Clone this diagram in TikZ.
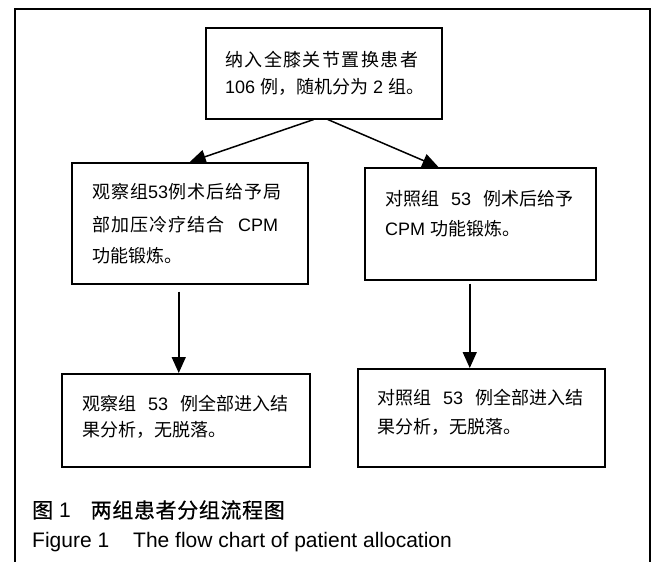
\documentclass[tikz,border=0pt]{standalone}
\usepackage{fontspec}
\setmainfont{Liberation Sans}
\newfontfamily\cjk{Noto Sans CJK SC}
\newfontfamily\cjkw[LetterSpace=8]{Noto Sans CJK SC}
\newfontfamily\cjkm[LetterSpace=5.5]{Noto Sans CJK SC}
\newfontfamily\cjkc[LetterSpace=3,FakeBold=0.6]{Noto Sans CJK SC}
\usetikzlibrary{arrows.meta,calc}
\newcommand{\tgap}{\hspace{12pt}}
\begin{document}
\begin{tikzpicture}[x=1pt,y=-1pt,
  box/.style={draw=black,line width=1.5pt,inner sep=0pt,anchor=north west},
  txt/.style={anchor=west,inner sep=0pt,font=\fontsize{18}{22}\selectfont},
  captxt/.style={anchor=west,inner sep=0pt,font=\fontsize{21}{25}\selectfont},
  arr/.style={line width=1.5pt,-{Triangle[width=14pt,length=16pt]}}]
\useasboundingbox (0,0) rectangle (653,562);
% outer frame
\draw[line width=2pt] (15,562) -- (15,9) -- (650,9) -- (650,562);
% boxes
\node[box,minimum width=236pt,minimum height=91pt] (t) at (205,27) {};
\node[box,minimum width=236pt,minimum height=121pt] (l) at (71,162) {};
\node[box,minimum width=231pt,minimum height=112pt] (r) at (364,167) {};
\node[box,minimum width=248pt,minimum height=93pt] (bl) at (61,373) {};
\node[box,minimum width=247pt,minimum height=98pt] (br) at (357,368) {};
% texts
\node[txt] (t1) at (225,60) {{\cjkw 纳入全膝关节置换患者}};
\node[txt] (t2) at (225,87) {106 {\cjk 例，随机分为} 2 {\cjk 组。}};
\node[txt] (l1) at (92,192) {{\cjkm 观察组}53{\cjkm 例术后给予局}};
\node[txt] (l2) at (92,225) {{\cjkm 部加压冷疗结合}\hspace{14pt}CPM};
\node[txt] (l3) at (92,256) {{\cjk 功能锻炼。}};
\node[txt] (r1) at (385,199) {{\cjk 对照组}\tgap 53\tgap{\cjk 例术后给予}};
\node[txt] (r2) at (385,229) {CPM {\cjk 功能锻炼。}};
\node[txt] (b1) at (82,404) {{\cjk 观察组}\tgap 53\tgap{\cjk 例全部进入结}};
\node[txt] (b2) at (82,430) {{\cjk 果分析，无脱落。}};
\node[txt] (c1) at (377,398) {{\cjk 对照组}\tgap 53\tgap{\cjk 例全部进入结}};
\node[txt] (c2) at (377,427) {{\cjk 果分析，无脱落。}};
% connectors
\coordinate (a1) at ($(t.south)+(-10,0)$);
\coordinate (a2) at ($(t.south)+(4,0)$);
\coordinate (a3) at ($(l.south)+(-11,7)$);
\coordinate (a4) at ($(r.south)+(-10.5,3)$);
\draw[arr] (a1) -- (l.north);
\draw[arr] (a2) -- ($(r.north west)!0.32!(r.north east)$);
\draw[arr] (a3) -- (a3 |- bl.north);
\draw[arr] (a4) -- (a4 |- br.north);
% caption
\node[captxt] (cap1) at (32,510) {{\cjkc 图} 1\hspace{20pt}{\cjkc 两组患者分组流程图}};
\node[captxt] (cap2) at (32,542) {Figure 1\hspace{24pt}The flow chart of patient allocation};
\end{tikzpicture}
\end{document}
